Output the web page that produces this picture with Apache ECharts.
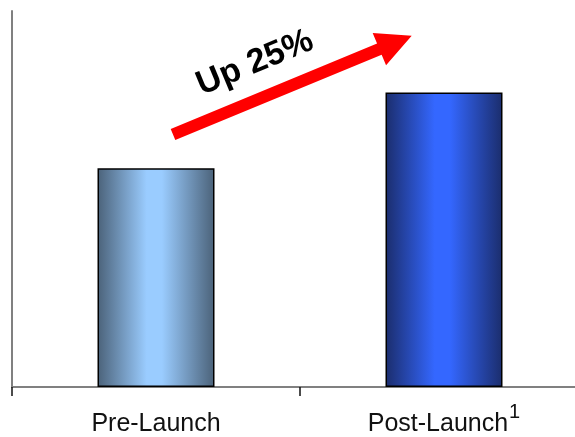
<!DOCTYPE html>
<html>
<head>
<meta charset="utf-8">
<style>
  html, body { margin: 0; padding: 0; background: #fff; }
  #chart { width: 575px; height: 437px; }
</style>
<script src="https://cdn.jsdelivr.net/npm/echarts@6/dist/echarts.min.js"></script>
</head>
<body>
<div id="chart"></div>
<script>
// Index of average value before and after the launch
const categories = ['Pre-Launch', 'Post-Launch'];
const footnotes = ['', '1'];
const values = [58.2, 78.3];
const axisMax = 100;
const changeLabel = 'Up 25%';

const FONT = 'Arial, "Liberation Sans", sans-serif';

function barGradient(edge, center) {
  return new echarts.graphic.LinearGradient(0, 0, 1, 0, [
    { offset: 0, color: edge },
    { offset: 0.42, color: center },
    { offset: 0.55, color: center },
    { offset: 1, color: edge }
  ]);
}
const barFills = [
  barGradient('#4b6279', '#9accff'),
  barGradient('#1b2d6c', '#3467ff')
];

// Red trend arrow from the first bar towards the second
function arrowPoints(tail, tip, shaftHalf, headHalf, headLen) {
  const dx = tip[0] - tail[0], dy = tip[1] - tail[1];
  const len = Math.hypot(dx, dy);
  const ux = dx / len, uy = dy / len;
  const nx = -uy, ny = ux;
  const bx = tip[0] - ux * headLen, by = tip[1] - uy * headLen;
  return [
    [tail[0] + nx * shaftHalf, tail[1] + ny * shaftHalf],
    [bx + nx * shaftHalf, by + ny * shaftHalf],
    [bx + nx * headHalf, by + ny * headHalf],
    tip,
    [bx - nx * headHalf, by - ny * headHalf],
    [bx - nx * shaftHalf, by - ny * shaftHalf],
    [tail[0] - nx * shaftHalf, tail[1] - ny * shaftHalf]
  ];
}
const arrowTail = [173, 134.5];
const arrowTip = [411.7, 35.7];
const arrowAngle = Math.atan2(arrowTail[1] - arrowTip[1], arrowTip[0] - arrowTail[0]);

const chart = echarts.init(document.getElementById('chart'), null, { renderer: 'canvas' });

chart.setOption({
  animation: false,
  backgroundColor: '#ffffff',
  grid: { left: 12, width: 576, top: 11, height: 376, containLabel: false, outerBoundsMode: 'none' },
  xAxis: {
    type: 'category',
    data: categories,
    boundaryGap: true,
    axisLine: { lineStyle: { color: '#808080', width: 2 } },
    axisTick: { show: true, length: 9, lineStyle: { color: '#111', width: 1.5 } },
    axisLabel: {
      margin: 15,
      formatter: function (v, i) {
        const fn = footnotes[i];
        return '{main|' + v + '}' + (fn ? '{sup|' + fn + '}' : '');
      },
      rich: {
        main: { fontFamily: FONT, fontSize: 25, color: '#111', lineHeight: 35, verticalAlign: 'bottom' },
        sup: { fontFamily: FONT, fontSize: 20, color: '#111', lineHeight: 20, verticalAlign: 'top', padding: [0, 0, 0, 1] }
      }
    }
  },
  yAxis: {
    type: 'value',
    min: 0,
    max: axisMax,
    axisLine: { show: true, lineStyle: { color: '#808080', width: 2 } },
    axisTick: { show: false },
    axisLabel: { show: false },
    splitLine: { show: false }
  },
  series: [{
    type: 'bar',
    barWidth: 117,
    data: values.map(function (v, i) {
      return { value: v, itemStyle: { color: barFills[i] } };
    }),
    itemStyle: { borderColor: '#000', borderWidth: 1.5 }
  }],
  graphic: [
    {
      type: 'polygon',
      shape: { points: arrowPoints(arrowTail, arrowTip, 6, 17.5, 35) },
      style: { fill: '#ff0000' },
      z: 10
    },
    {
      type: 'text',
      x: 255,
      y: 63,
      rotation: arrowAngle,
      style: {
        text: changeLabel,
        x: 0,
        y: 0,
        align: 'center',
        verticalAlign: 'middle',
        font: 'bold 34px ' + FONT,
        fill: '#000'
      },
      z: 10
    }
  ]
});
</script>
</body>
</html>
